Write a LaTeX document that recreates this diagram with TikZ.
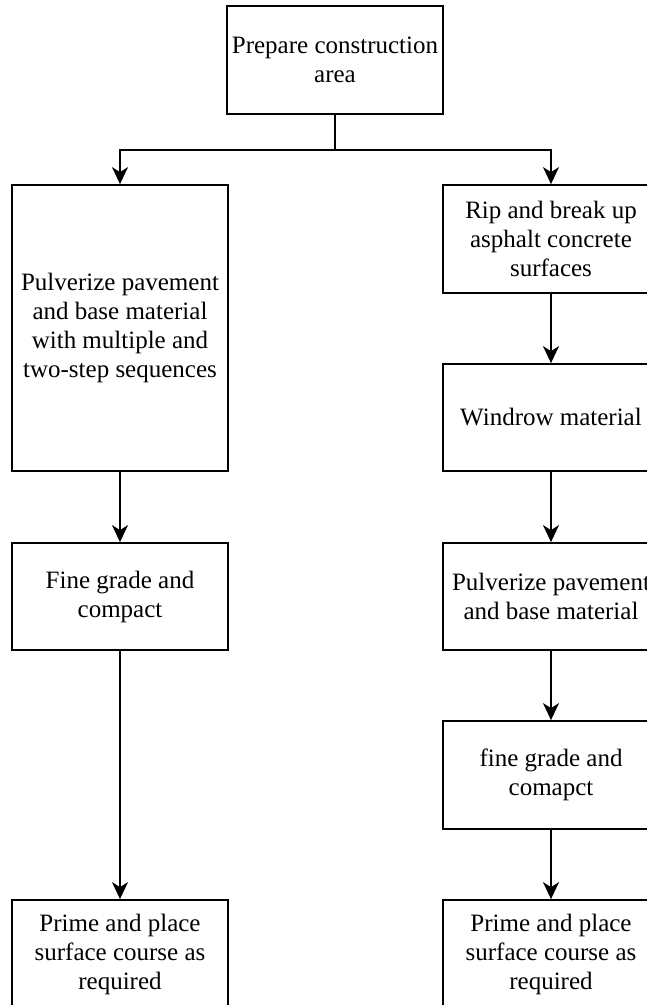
\documentclass[tikz,border=0pt]{standalone}
\usepackage{fontspec}
\setmainfont{Liberation Serif}
\usetikzlibrary{arrows.meta}
\begin{document}
\begin{tikzpicture}[x=1pt,y=-1pt,
  stepbox/.style={draw, line width=1.8pt, minimum width=216pt, align=center,
    font=\fontsize{25}{29}\selectfont, inner sep=0pt},
  flow/.style={line width=1.8pt, -{Stealth[length=17pt,width=16pt,inset=5pt]}}]
\useasboundingbox (0,0) rectangle (647,1005);
\clip (0,0) rectangle (647,1005);
\fill[white] (0,0) rectangle (647,1005);
% top
\node[stepbox, minimum height=108pt] (A) at (335,60) {Prepare construction\\area};
% left column
\node[stepbox, minimum height=286pt] (L1) at (120,328) {Pulverize pavement\\and base material\\with multiple and\\two-step sequences};
\node[stepbox, minimum height=107pt] (L2) at (120,596.5) {Fine grade and\\compact};
\node[stepbox, minimum height=108pt] (L3) at (120,954) {Prime and place\\surface course as\\required};
% right column
\node[stepbox, minimum height=108pt] (R1) at (551,239) {Rip and break up\\asphalt concrete\\surfaces};
\node[stepbox, minimum height=107pt] (R2) at (551,417.5) {Windrow material};
\node[stepbox, minimum height=107pt] (R3) at (551,596.5) {Pulverize pavement\\and base material};
\node[stepbox, minimum height=108pt] (R4) at (551,775) {fine grade and\\comapct};
\node[stepbox, minimum height=108pt] (R5) at (551,954) {Prime and place\\surface course as\\required};
% connectors
\draw[line width=1.8pt] (A.south) -- ++(0,35) coordinate (J);
\draw[flow] (J) -| (L1.north);
\draw[flow] (J) -| (R1.north);
\draw[flow] (L1) -- (L2);
\draw[flow] (L2) -- (L3);
\draw[flow] (R1) -- (R2);
\draw[flow] (R2) -- (R3);
\draw[flow] (R3) -- (R4);
\draw[flow] (R4) -- (R5);
\end{tikzpicture}
\end{document}
